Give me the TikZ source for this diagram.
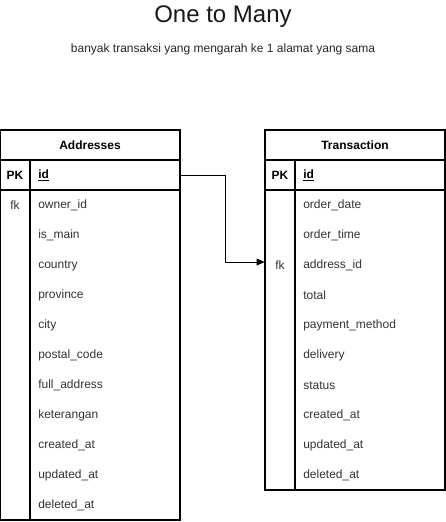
\documentclass[tikz,border=0pt]{standalone}
\usepackage{fontspec}
\setmainfont{Liberation Sans}
\usetikzlibrary{arrows.meta}
\definecolor{rowtext}{HTML}{333333}
\tikzset{
  tline/.style={draw=black, line width=0.9pt},
  hdr/.style={font=\fontsize{9}{11}\selectfont\bfseries, text=black},
  keycell/.style={font=\fontsize{9}{11}\selectfont, text=rowtext, anchor=center, minimum width=22.5pt, minimum height=22.5pt, inner sep=0pt},
  pkcell/.style={keycell, font=\fontsize{9}{11}\selectfont\bfseries, text=black},
  field/.style={font=\fontsize{9}{11}\selectfont, text=rowtext, anchor=west, inner sep=0pt},
  pkfield/.style={field, font=\fontsize{9}{11}\selectfont\bfseries, text=black},
  conn/.style={draw=black, line width=0.75pt, -{Triangle[length=6pt,width=5pt]}},
}
\begin{document}
\begin{tikzpicture}[x=0.75pt,y=-0.75pt]
\useasboundingbox (0,0) rectangle (446,522);
% titles
\node[font=\fontsize{18}{21}\selectfont, text=black!90] (title) at (223,17) {One to Many};
\node[font=\fontsize{9}{11}\selectfont, text=black!85] (sub) at (223,49) {banyak transaksi yang mengarah ke 1 alamat yang sama};

% Addresses table
\draw[tline] (0.5,130) rectangle (180,520);
\draw[tline] (0.5,160) -- (180,160);
\draw[tline] (0.5,190) -- (180,190);
\draw[tline] (30,160) -- (30,520);
\node[hdr] (ahdr) at (90,145) {Addresses};
\node[pkcell] (apk) at (15,175) {PK};
\node[pkfield] (aid) at (38,175.5) {\underline{id}};
\node[draw=none, minimum width=112.5pt, minimum height=22.5pt, inner sep=0pt] (aidrow) at (105,175) {};
\node[keycell] (afk) at (15,205.5) {fk};
\foreach \t [count=\i] in {owner\_id,is\_main,country,province,city,postal\_code,full\_address,keterangan,created\_at,updated\_at,deleted\_at}{
  \node[field] (af\i) at (38,{175.5+30*\i}) {\t};
}

% Transaction table
\draw[tline] (265,130) rectangle (445,490);
\draw[tline] (265,160) -- (445,160);
\draw[tline] (265,190) -- (445,190);
\draw[tline] (295,160) -- (295,490);
\node[hdr] (thdr) at (355,145) {Transaction};
\node[pkcell] (tpk) at (280,175) {PK};
\node[pkfield] (tid) at (303,175.5) {\underline{id}};
\node[keycell] (tfk) at (280,265.5) {fk};
\foreach \t [count=\i] in {order\_date,order\_time,address\_id,total,payment\_method,delivery,status,created\_at,updated\_at,deleted\_at}{
  \node[field] (tf\i) at (303,{175.5+30*\i}) {\t};
}

% connector
\draw[conn] (aidrow.east) -- ++(45,0) |- ([yshift=2.6pt]tfk.west);
\end{tikzpicture}
\end{document}
